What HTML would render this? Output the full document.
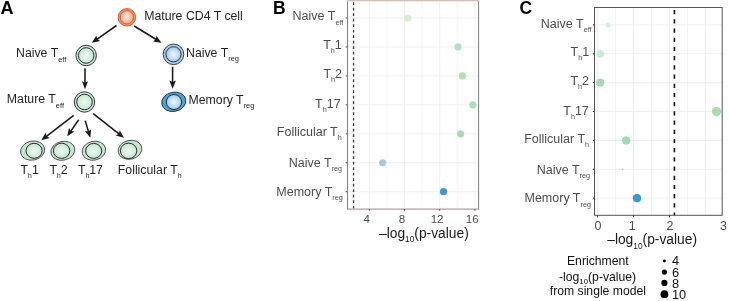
<!DOCTYPE html><html><head><meta charset="utf-8"><style>html,body{margin:0;padding:0;background:#fff;width:729px;height:301px;overflow:hidden}svg{display:block;will-change:transform}text{font-family:"Liberation Sans",sans-serif}</style></head><body>
<svg width="729" height="301" viewBox="0 0 729 301">
<defs>
<radialGradient id="gOr" cx="0.45" cy="0.45" r="0.62"><stop offset="0" stop-color="#fdeee6"/><stop offset="1" stop-color="#f39c7a"/></radialGradient>
<radialGradient id="gGr" cx="0.5" cy="0.5" r="0.62"><stop offset="0" stop-color="#f2faf4"/><stop offset="1" stop-color="#b9e2c7"/></radialGradient>
<radialGradient id="gBl" cx="0.5" cy="0.5" r="0.62"><stop offset="0" stop-color="#f4f9fd"/><stop offset="1" stop-color="#8bbfe5"/></radialGradient>
</defs>
<rect width="729" height="301" fill="#fff"/>
<text x="0.5" y="14.3" font-size="18" font-weight="bold" fill="#000">A</text>
<text x="273" y="14.3" font-size="17.5" font-weight="bold" fill="#000">B</text>
<text x="519.5" y="14.4" font-size="17.5" font-weight="bold" fill="#000">C</text>
<line x1="116.50" y1="25.50" x2="95.73" y2="40.05" stroke="#1a1a1a" stroke-width="1.55"/>
<path d="M91.80,42.80 L96.46,35.51 L97.17,39.04 L100.25,40.91 Z" fill="#1a1a1a"/>
<line x1="134.20" y1="26.00" x2="157.41" y2="40.28" stroke="#1a1a1a" stroke-width="1.55"/>
<path d="M161.50,42.80 L152.96,41.42 L155.91,39.36 L156.42,35.80 Z" fill="#1a1a1a"/>
<line x1="85.00" y1="68.30" x2="85.00" y2="84.50" stroke="#1a1a1a" stroke-width="1.55"/>
<path d="M85.00,89.30 L82.00,81.30 L85.00,82.74 L88.00,81.30 Z" fill="#1a1a1a"/>
<line x1="172.60" y1="66.80" x2="172.60" y2="83.76" stroke="#1a1a1a" stroke-width="1.55"/>
<path d="M172.60,88.80 L169.30,80.40 L172.60,81.91 L175.90,80.40 Z" fill="#1a1a1a"/>
<line x1="73.70" y1="115.40" x2="45.11" y2="137.28" stroke="#1a1a1a" stroke-width="1.55"/>
<path d="M41.30,140.20 L45.65,132.72 L46.51,136.21 L49.66,137.96 Z" fill="#1a1a1a"/>
<line x1="78.70" y1="119.70" x2="69.93" y2="132.35" stroke="#1a1a1a" stroke-width="1.55"/>
<path d="M67.20,136.30 L69.04,127.84 L70.94,130.91 L74.47,131.60 Z" fill="#1a1a1a"/>
<line x1="85.20" y1="120.60" x2="88.94" y2="133.20" stroke="#1a1a1a" stroke-width="1.55"/>
<path d="M90.30,137.80 L84.86,131.07 L88.44,131.51 L91.19,129.19 Z" fill="#1a1a1a"/>
<line x1="93.20" y1="113.60" x2="120.23" y2="134.83" stroke="#1a1a1a" stroke-width="1.55"/>
<path d="M124.00,137.80 L115.67,135.45 L118.84,133.75 L119.75,130.26 Z" fill="#1a1a1a"/>
<circle cx="126.9" cy="17.3" r="8.8" fill="#f08a64" stroke="#c86844" stroke-width="0.95"/>
<circle cx="126.9" cy="17.3" r="6.6" fill="url(#gOr)" stroke="#c86844" stroke-width="1"/>
<circle cx="86.2" cy="55.5" r="10.2" fill="#cdecd9" stroke="#2a2a2a" stroke-width="0.95"/>
<circle cx="86.2" cy="55.5" r="7.8" fill="url(#gGr)" stroke="#2a2a2a" stroke-width="1"/>
<circle cx="84.5" cy="102.0" r="10.2" fill="#cdecd9" stroke="#2a2a2a" stroke-width="0.95"/>
<circle cx="84.5" cy="102.0" r="7.8" fill="url(#gGr)" stroke="#2a2a2a" stroke-width="1"/>
<circle cx="173.5" cy="54.3" r="10.3" fill="#a9cce8" stroke="#2a3440" stroke-width="0.95"/>
<circle cx="173.5" cy="54.3" r="7.6" fill="url(#gBl)" stroke="#2a3440" stroke-width="1"/>
<ellipse cx="173.8" cy="101.8" rx="12.2" ry="9.6" transform="rotate(-12 173.8 101.8)" fill="#4da3d6" stroke="#1e2a38" stroke-width="0.85"/>
<ellipse cx="174.0" cy="102.0" rx="7.7" ry="7.5" fill="url(#gBl)" stroke="#1e2a38" stroke-width="1"/>
<ellipse cx="32.6" cy="150.6" rx="12.2" ry="9.5" transform="rotate(-12 32.6 150.6)" fill="#c4e7d0" stroke="#444" stroke-width="0.85"/>
<ellipse cx="34.1" cy="150.8" rx="8.1" ry="7.5" fill="url(#gGr)" stroke="#2a2a2a" stroke-width="1"/>
<ellipse cx="62.85" cy="150.8" rx="12.1" ry="9.4" transform="rotate(-13 62.85 150.8)" fill="#c4e7d0" stroke="#444" stroke-width="0.85"/>
<ellipse cx="61.6" cy="150.8" rx="8.2" ry="7.6" fill="url(#gGr)" stroke="#2a2a2a" stroke-width="1"/>
<ellipse cx="93.85" cy="150.75" rx="11.9" ry="9.4" transform="rotate(-13 93.85 150.75)" fill="#c4e7d0" stroke="#444" stroke-width="0.85"/>
<ellipse cx="93.7" cy="150.9" rx="8.05" ry="7.5" fill="url(#gGr)" stroke="#2a2a2a" stroke-width="1"/>
<ellipse cx="130.0" cy="149.8" rx="12.0" ry="9.4" transform="rotate(-13 130.0 149.8)" fill="#c4e7d0" stroke="#444" stroke-width="0.85"/>
<ellipse cx="128.6" cy="150.85" rx="8.2" ry="7.75" fill="url(#gGr)" stroke="#2a2a2a" stroke-width="1"/>
<text x="144.2" y="20.1" font-size="12.3" fill="#231f20">Mature CD4 T cell</text>
<text x="16.0" y="56.8" font-size="12.3" fill="#231f20" text-anchor="start">Naive T<tspan font-size="7.5" dy="4.7" fill="#231f20">eff</tspan></text>
<text x="186.0" y="56.5" font-size="12.3" fill="#231f20" text-anchor="start">Naive T<tspan font-size="7.5" dy="4.0" fill="#231f20">reg</tspan></text>
<text x="6.8" y="103.4" font-size="12.3" fill="#231f20" text-anchor="start">Mature T<tspan font-size="7.5" dy="4.7" fill="#231f20">eff</tspan></text>
<text x="188.5" y="103.8" font-size="12.3" fill="#231f20" text-anchor="start">Memory T<tspan font-size="7.5" dy="4.0" fill="#231f20">reg</tspan></text>
<text x="20.6" y="173.7" font-size="12.3" fill="#231f20" text-anchor="start">T<tspan font-size="6.8" dy="3.9" fill="#231f20">h</tspan><tspan dy="-3.9">1</tspan></text>
<text x="49.5" y="173.7" font-size="12.3" fill="#231f20" text-anchor="start">T<tspan font-size="6.8" dy="3.9" fill="#231f20">h</tspan><tspan dy="-3.9">2</tspan></text>
<text x="77.9" y="173.7" font-size="12.3" fill="#231f20" text-anchor="start">T<tspan font-size="6.8" dy="3.9" fill="#231f20">h</tspan><tspan dy="-3.9">17</tspan></text>
<text x="117.8" y="173.6" font-size="12.3" fill="#231f20" text-anchor="start">Follicular T<tspan font-size="6.8" dy="3.9" fill="#231f20">h</tspan></text>
<line x1="351.70" y1="0.5" x2="351.70" y2="209.1" stroke="#f4f4f4" stroke-width="0.9"/>
<line x1="386.90" y1="0.5" x2="386.90" y2="209.1" stroke="#f4f4f4" stroke-width="0.9"/>
<line x1="422.10" y1="0.5" x2="422.10" y2="209.1" stroke="#f4f4f4" stroke-width="0.9"/>
<line x1="457.30" y1="0.5" x2="457.30" y2="209.1" stroke="#f4f4f4" stroke-width="0.9"/>
<line x1="369.30" y1="0.5" x2="369.30" y2="209.1" stroke="#efefef" stroke-width="1"/>
<line x1="404.50" y1="0.5" x2="404.50" y2="209.1" stroke="#efefef" stroke-width="1"/>
<line x1="439.70" y1="0.5" x2="439.70" y2="209.1" stroke="#efefef" stroke-width="1"/>
<line x1="474.90" y1="0.5" x2="474.90" y2="209.1" stroke="#efefef" stroke-width="1"/>
<line x1="347.4" y1="18.00" x2="478.4" y2="18.00" stroke="#efefef" stroke-width="1"/>
<line x1="347.4" y1="46.95" x2="478.4" y2="46.95" stroke="#efefef" stroke-width="1"/>
<line x1="347.4" y1="75.90" x2="478.4" y2="75.90" stroke="#efefef" stroke-width="1"/>
<line x1="347.4" y1="104.85" x2="478.4" y2="104.85" stroke="#efefef" stroke-width="1"/>
<line x1="347.4" y1="133.80" x2="478.4" y2="133.80" stroke="#efefef" stroke-width="1"/>
<line x1="347.4" y1="162.75" x2="478.4" y2="162.75" stroke="#efefef" stroke-width="1"/>
<line x1="347.4" y1="191.70" x2="478.4" y2="191.70" stroke="#efefef" stroke-width="1"/>
<line x1="353.55" y1="2.3" x2="353.55" y2="209.1" stroke="#3a3232" stroke-width="1.3" stroke-dasharray="2.8 2.7"/>
<circle cx="408.0" cy="18.00" r="3.6" fill="#d2eed8"/>
<circle cx="458.0" cy="46.95" r="3.6" fill="#b3e1c0"/>
<circle cx="462.4" cy="75.90" r="3.6" fill="#afdfbc"/>
<circle cx="472.8" cy="104.85" r="3.6" fill="#abddb8"/>
<circle cx="460.6" cy="133.80" r="3.6" fill="#a6dbb3"/>
<circle cx="382.6" cy="162.75" r="3.6" fill="#a2c9e6"/>
<circle cx="443.5" cy="191.70" r="3.6" fill="#3a97cf"/>
<line x1="347.55" y1="1.2" x2="347.55" y2="209.6" stroke="#858585" stroke-width="1.1"/>
<line x1="478.55" y1="0" x2="478.55" y2="209.6" stroke="#888" stroke-width="1.1"/>
<line x1="347" y1="209.1" x2="479.1" y2="209.1" stroke="#ad9f9f" stroke-width="1.1"/>
<rect x="347" y="0" width="132" height="1.1" fill="#d6c0b4"/>
<rect x="348.1" y="1.1" width="130" height="0.9" fill="#e4ecf0"/>
<line x1="345.6" y1="18.00" x2="347.4" y2="18.00" stroke="#555" stroke-width="1"/>
<line x1="345.6" y1="46.95" x2="347.4" y2="46.95" stroke="#555" stroke-width="1"/>
<line x1="345.6" y1="75.90" x2="347.4" y2="75.90" stroke="#555" stroke-width="1"/>
<line x1="345.6" y1="104.85" x2="347.4" y2="104.85" stroke="#555" stroke-width="1"/>
<line x1="345.6" y1="133.80" x2="347.4" y2="133.80" stroke="#555" stroke-width="1"/>
<line x1="345.6" y1="162.75" x2="347.4" y2="162.75" stroke="#555" stroke-width="1"/>
<line x1="345.6" y1="191.70" x2="347.4" y2="191.70" stroke="#555" stroke-width="1"/>
<line x1="369.30" y1="209.1" x2="369.30" y2="210.9" stroke="#555" stroke-width="1"/>
<line x1="404.50" y1="209.1" x2="404.50" y2="210.9" stroke="#555" stroke-width="1"/>
<line x1="439.70" y1="209.1" x2="439.70" y2="210.9" stroke="#555" stroke-width="1"/>
<line x1="474.90" y1="209.1" x2="474.90" y2="210.9" stroke="#555" stroke-width="1"/>
<text x="366.70" y="222.9" font-size="11.6" fill="#4d4d4d" text-anchor="middle">4</text>
<text x="401.90" y="222.9" font-size="11.6" fill="#4d4d4d" text-anchor="middle">8</text>
<text x="437.10" y="222.9" font-size="11.6" fill="#4d4d4d" text-anchor="middle">12</text>
<text x="472.30" y="222.9" font-size="11.6" fill="#4d4d4d" text-anchor="middle">16</text>
<text x="343.32" y="20.3" font-size="12.5" fill="#4d4d4d" text-anchor="end">Naive T<tspan font-size="7.2" dy="4.2" fill="#4d4d4d">eff</tspan></text>
<text x="341.78" y="49.0" font-size="12.5" fill="#4d4d4d" text-anchor="end">T<tspan font-size="7.2" dy="4.2" fill="#4d4d4d">h</tspan><tspan dy="-4.2">1</tspan></text>
<text x="342.06" y="78.2" font-size="12.5" fill="#4d4d4d" text-anchor="end">T<tspan font-size="7.2" dy="4.2" fill="#4d4d4d">h</tspan><tspan dy="-4.2">2</tspan></text>
<text x="340.65" y="107.8" font-size="12.5" fill="#4d4d4d" text-anchor="end">T<tspan font-size="7.2" dy="4.2" fill="#4d4d4d">h</tspan><tspan dy="-4.2">17</tspan></text>
<text x="341.71" y="136.0" font-size="12.5" fill="#4d4d4d" text-anchor="end">Follicular T<tspan font-size="7.2" dy="4.2" fill="#4d4d4d">h</tspan></text>
<text x="342.05" y="166.8" font-size="12.5" fill="#4d4d4d" text-anchor="end">Naive T<tspan font-size="7.2" dy="4.2" fill="#4d4d4d">reg</tspan></text>
<text x="342.71" y="196.0" font-size="12.5" fill="#4d4d4d" text-anchor="end">Memory T<tspan font-size="7.2" dy="4.2" fill="#4d4d4d">reg</tspan></text>
<text x="423.9" y="237.9" font-size="13.8" fill="#1a1a1a" text-anchor="middle">–log<tspan font-size="8.3" dy="4.1">10</tspan><tspan dy="-4.1">(p-value)</tspan></text>
<line x1="615.50" y1="7.5" x2="615.50" y2="215.3" stroke="#f2f2f2" stroke-width="0.9"/>
<line x1="651.50" y1="7.5" x2="651.50" y2="215.3" stroke="#f2f2f2" stroke-width="0.9"/>
<line x1="687.50" y1="7.5" x2="687.50" y2="215.3" stroke="#f2f2f2" stroke-width="0.9"/>
<line x1="597.50" y1="7.5" x2="597.50" y2="215.3" stroke="#eeeeee" stroke-width="1"/>
<line x1="633.50" y1="7.5" x2="633.50" y2="215.3" stroke="#eeeeee" stroke-width="1"/>
<line x1="669.50" y1="7.5" x2="669.50" y2="215.3" stroke="#eeeeee" stroke-width="1"/>
<line x1="705.50" y1="7.5" x2="705.50" y2="215.3" stroke="#eeeeee" stroke-width="1"/>
<line x1="594.5" y1="24.90" x2="722.2" y2="24.90" stroke="#eeeeee" stroke-width="1"/>
<line x1="594.5" y1="53.78" x2="722.2" y2="53.78" stroke="#eeeeee" stroke-width="1"/>
<line x1="594.5" y1="82.66" x2="722.2" y2="82.66" stroke="#eeeeee" stroke-width="1"/>
<line x1="594.5" y1="111.54" x2="722.2" y2="111.54" stroke="#eeeeee" stroke-width="1"/>
<line x1="594.5" y1="140.42" x2="722.2" y2="140.42" stroke="#eeeeee" stroke-width="1"/>
<line x1="594.5" y1="169.30" x2="722.2" y2="169.30" stroke="#eeeeee" stroke-width="1"/>
<line x1="594.5" y1="198.18" x2="722.2" y2="198.18" stroke="#eeeeee" stroke-width="1"/>
<line x1="674.4" y1="10.1" x2="674.4" y2="215.3" stroke="#111" stroke-width="1.6" stroke-dasharray="4.2 5.0"/>
<circle cx="608.0" cy="24.90" r="2.5" fill="#d8eedd"/>
<circle cx="600.2" cy="53.78" r="3.9" fill="#cce9d4"/>
<circle cx="600.2" cy="82.66" r="4.1" fill="#a8dab5"/>
<circle cx="716.5" cy="111.54" r="4.6" fill="#a8dab5"/>
<circle cx="626.2" cy="140.42" r="4.2" fill="#a3d9af"/>
<circle cx="622.7" cy="169.30" r="0.9" fill="#a9c6da"/>
<circle cx="637.0" cy="198.18" r="4.1" fill="#3a97cf"/>
<rect x="594.5" y="7.5" width="127.70" height="207.80" fill="none" stroke="#555" stroke-width="1"/>
<line x1="592.8" y1="24.90" x2="594.5" y2="24.90" stroke="#333" stroke-width="1"/>
<line x1="592.8" y1="53.78" x2="594.5" y2="53.78" stroke="#333" stroke-width="1"/>
<line x1="592.8" y1="82.66" x2="594.5" y2="82.66" stroke="#333" stroke-width="1"/>
<line x1="592.8" y1="111.54" x2="594.5" y2="111.54" stroke="#333" stroke-width="1"/>
<line x1="592.8" y1="140.42" x2="594.5" y2="140.42" stroke="#333" stroke-width="1"/>
<line x1="592.8" y1="169.30" x2="594.5" y2="169.30" stroke="#333" stroke-width="1"/>
<line x1="592.8" y1="198.18" x2="594.5" y2="198.18" stroke="#333" stroke-width="1"/>
<line x1="597.50" y1="215.3" x2="597.50" y2="217.3" stroke="#333" stroke-width="1"/>
<line x1="633.50" y1="215.3" x2="633.50" y2="217.3" stroke="#333" stroke-width="1"/>
<line x1="669.50" y1="215.3" x2="669.50" y2="217.3" stroke="#333" stroke-width="1"/>
<text x="598.10" y="229.6" font-size="12.5" fill="#4d4d4d" text-anchor="middle">0</text>
<text x="632.30" y="229.6" font-size="12.5" fill="#4d4d4d" text-anchor="middle">1</text>
<text x="670.00" y="229.6" font-size="12.5" fill="#4d4d4d" text-anchor="middle">2</text>
<text x="723.60" y="229.6" font-size="12.5" fill="#4d4d4d" text-anchor="middle">3</text>
<text x="591.54" y="27.5" font-size="12.5" fill="#4d4d4d" text-anchor="end">Naive T<tspan font-size="7.2" dy="4.2" fill="#4d4d4d">eff</tspan></text>
<text x="589.08" y="55.8" font-size="12.5" fill="#4d4d4d" text-anchor="end">T<tspan font-size="7.2" dy="4.2" fill="#4d4d4d">h</tspan><tspan dy="-4.2">1</tspan></text>
<text x="589.06" y="85.0" font-size="12.5" fill="#4d4d4d" text-anchor="end">T<tspan font-size="7.2" dy="4.2" fill="#4d4d4d">h</tspan><tspan dy="-4.2">2</tspan></text>
<text x="588.84" y="114.8" font-size="12.5" fill="#4d4d4d" text-anchor="end">T<tspan font-size="7.2" dy="4.2" fill="#4d4d4d">h</tspan><tspan dy="-4.2">17</tspan></text>
<text x="589.07" y="142.6" font-size="12.5" fill="#4d4d4d" text-anchor="end">Follicular T<tspan font-size="7.2" dy="4.2" fill="#4d4d4d">h</tspan></text>
<text x="589.96" y="173.6" font-size="12.5" fill="#4d4d4d" text-anchor="end">Naive T<tspan font-size="7.2" dy="4.2" fill="#4d4d4d">reg</tspan></text>
<text x="590.91" y="202.3" font-size="12.5" fill="#4d4d4d" text-anchor="end">Memory T<tspan font-size="7.2" dy="4.2" fill="#4d4d4d">reg</tspan></text>
<text x="652.1" y="244" font-size="13.8" fill="#1a1a1a" text-anchor="middle">–log<tspan font-size="8.3" dy="5">10</tspan><tspan dy="-5">(p-value)</tspan></text>
<text x="597.8" y="265.3" font-size="12.2" fill="#111" text-anchor="middle">Enrichment</text>
<text x="597.6" y="280.5" font-size="12.2" fill="#111" text-anchor="middle">-log<tspan font-size="7.8" dy="3">10</tspan><tspan dy="-3">(p-value)</tspan></text>
<text x="597.9" y="295.3" font-size="12.2" fill="#111" text-anchor="middle">from single model</text>
<circle cx="664.4" cy="261.0" r="1.45" fill="#000"/>
<text x="671.9" y="265.3" font-size="12.8" fill="#111">4</text>
<circle cx="664.4" cy="272.1" r="2.6" fill="#000"/>
<text x="671.9" y="276.8" font-size="12.8" fill="#111">6</text>
<circle cx="664.4" cy="282.9" r="3.1" fill="#000"/>
<text x="671.9" y="287.5" font-size="12.8" fill="#111">8</text>
<circle cx="664.4" cy="294.2" r="3.9" fill="#000"/>
<text x="671.9" y="298.6" font-size="12.8" fill="#111">10</text>
</svg></body></html>
